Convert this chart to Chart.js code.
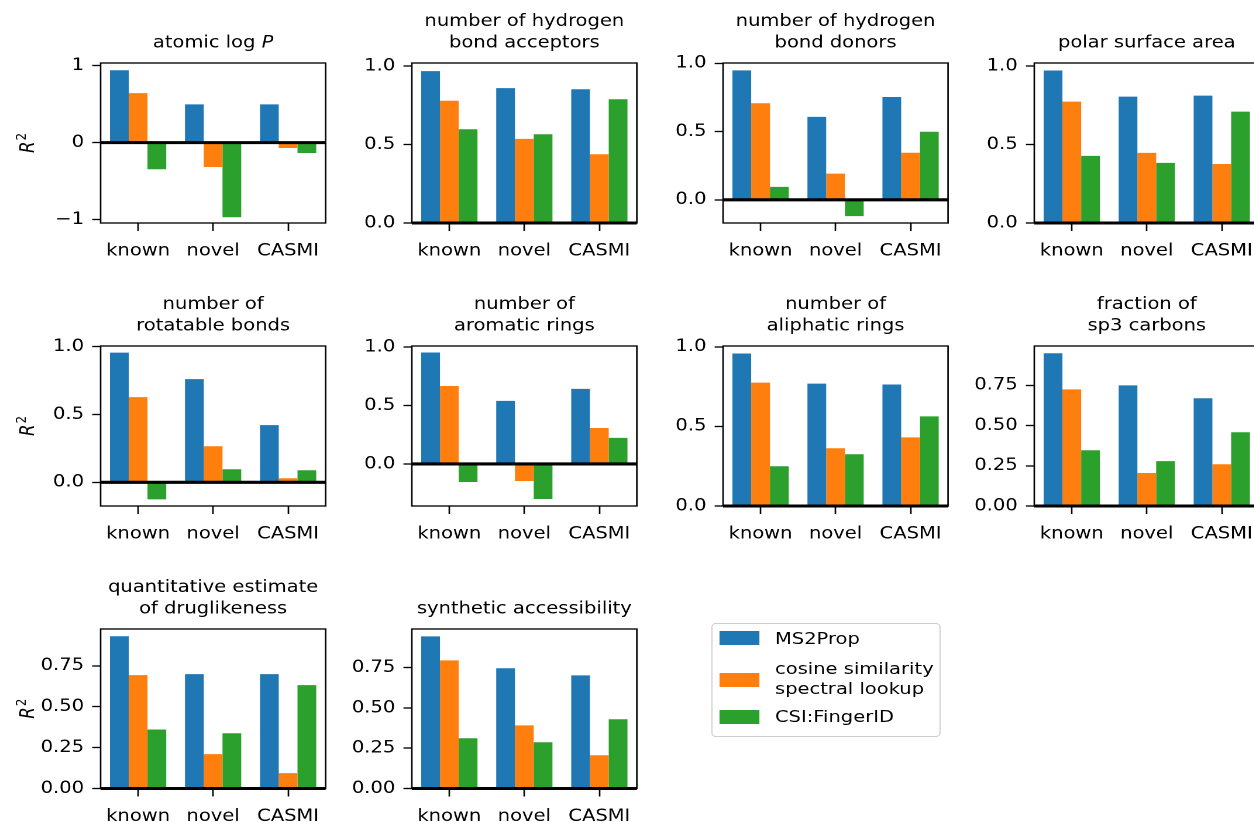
<!DOCTYPE html>
<html>
<head>
<meta charset="utf-8">
<title>R² of predicted molecular properties</title>
<script src="https://cdn.jsdelivr.net/npm/chart.js@4.4.1/dist/chart.umd.min.js"></script>
<style>
  html, body { margin: 0; padding: 0; background: #fff; }
  body { width: 1254px; height: 822px; overflow: hidden; position: relative; }
  #figure { position: absolute; left: 0; top: 0; width: 1080px; height: 822px; transform-origin: 0 0; }
  #figure canvas { position: absolute; }
  #legend { position: absolute; box-sizing: border-box; border: 1px solid #cccccc; border-radius: 4px; background: rgba(255,255,255,0.8); }
  .swatch { position: absolute; }
  .entry { position: absolute; font-family: "DejaVu Sans", sans-serif; font-size: 16.67px; line-height: 20px; color: #000; white-space: pre; }
</style>
</head>
<body>
<div id="figure"><div id="legend"></div></div>
<script>
// ---- data ----
const splits = ['known', 'novel', 'CASMI'];
const methodNames = ['MS2Prop', 'cosine similarity\nspectral lookup', 'CSI:FingerID'];
const methodColors = ['#1f77b4', '#ff7f0e', '#2ca02c'];

// text between $...$ is set in italics
const propertyTitles = [
  ['atomic log $P$'],
  ['number of hydrogen', 'bond acceptors'],
  ['number of hydrogen', 'bond donors'],
  ['polar surface area'],
  ['number of', 'rotatable bonds'],
  ['number of', 'aromatic rings'],
  ['number of', 'aliphatic rings'],
  ['fraction of', 'sp3 carbons'],
  ['quantitative estimate', 'of druglikeness'],
  ['synthetic accessibility']
];

// R² per property, columns: known, novel, CASMI
const ms2prop = [
  [0.940, 0.497, 0.497],
  [0.968, 0.860, 0.853],
  [0.949, 0.608, 0.754],
  [0.972, 0.806, 0.812],
  [0.956, 0.761, 0.421],
  [0.954, 0.540, 0.643],
  [0.958, 0.769, 0.763],
  [0.950, 0.750, 0.670],
  [0.931, 0.699, 0.699],
  [0.944, 0.746, 0.702]
];
const cosineLookup = [
  [0.644, -0.317, -0.070],
  [0.779, 0.536, 0.438],
  [0.708, 0.192, 0.345],
  [0.774, 0.447, 0.376],
  [0.628, 0.266, 0.030],
  [0.668, -0.146, 0.308],
  [0.775, 0.363, 0.431],
  [0.725, 0.205, 0.260],
  [0.693, 0.210, 0.094],
  [0.795, 0.392, 0.206]
];
const csiFingerId = [
  [-0.347, -0.970, -0.135],
  [0.598, 0.566, 0.789],
  [0.095, -0.120, 0.499],
  [0.428, 0.383, 0.710],
  [-0.126, 0.096, 0.089],
  [-0.154, -0.300, 0.223],
  [0.250, 0.325, 0.563],
  [0.347, 0.279, 0.459],
  [0.361, 0.338, 0.632],
  [0.312, 0.287, 0.430]
];

const yLimits = [
  [-1.045, 1.035], [0, 1.02], [-0.17, 1.003], [0, 1.02],
  [-0.175, 1.005], [-0.36, 1.01], [0, 1.005], [0, 0.995],
  [0, 0.975], [0, 0.99]
];
const tickTenths = [0, 0.5, 1];
const tickQuarters = [0, 0.25, 0.5, 0.75];
const yTickValues = [
  [-1, 0, 1], tickTenths, tickTenths, tickTenths,
  tickTenths, tickTenths, tickTenths, tickQuarters,
  tickQuarters, tickQuarters
];
const labelsTenths = ['0.0', '0.5', '1.0'];
const labelsQuarters = ['0.00', '0.25', '0.50', '0.75'];
const yTickLabels = [
  ['\u22121', '0', '1'], labelsTenths, labelsTenths, labelsTenths,
  labelsTenths, labelsTenths, labelsTenths, labelsQuarters,
  labelsQuarters, labelsQuarters
];
const showYLabel = [true, false, false, false, true, false, false, false, true, false];

// ---- layout ----
const X_STRETCH = 1.17;          // figure is laid out narrow, then widened
const FONT = '"DejaVu Sans", sans-serif';
const FS = 16.67;
const COL_LEFT0 = 85.5, COL_STEP = 266.2, PLOT_W = 192.3;
const ROW_TOP = [63, 346, 629], ROW_BOTTOM = [223, 506, 788.5];
const Y_AXIS_W = 80, X_AXIS_H = 50, PAD_TOP = 60;
const CANVAS_W = 300, CANVAS_H = 270;
const TITLE_BASE_GAP = 15.5, TITLE_LINE = 21.3;
const YLABEL_X = 28.6;

Chart.defaults.font.family = FONT;
Chart.defaults.font.size = FS;
Chart.defaults.color = '#000';

const fig = document.getElementById('figure');
fig.style.transform = `scaleX(${X_STRETCH})`;

function drawRich(ctx, text, cx, baseline) {
  const parts = text.split('$');
  const fonts = parts.map((p, k) => (k % 2 ? 'italic ' : '') + FS + 'px ' + FONT);
  let total = 0;
  const widths = parts.map((p, k) => { ctx.font = fonts[k]; const w = ctx.measureText(p).width; total += w; return w; });
  let x = cx - total / 2;
  ctx.textAlign = 'left';
  parts.forEach((p, k) => { ctx.font = fonts[k]; ctx.fillText(p, x, baseline); x += widths[k]; });
}

function makeDecor(i) {
  return {
    id: 'panelDecor' + i,
    afterDatasetsDraw(chart) {
      const { ctx, chartArea: a, scales: { y } } = chart;
      ctx.save();
      ctx.strokeStyle = '#000';
      // horizontal reference line at R² = 0
      const y0 = y.getPixelForValue(0);
      ctx.lineWidth = 3.1;
      ctx.beginPath(); ctx.moveTo(a.left, y0); ctx.lineTo(a.right, y0); ctx.stroke();
      // axes frame
      ctx.lineWidth = 1.33;
      ctx.strokeRect(a.left, a.top, a.right - a.left, a.bottom - a.top);
      ctx.restore();
    },
    afterDraw(chart) {
      const { ctx, chartArea: a } = chart;
      ctx.save();
      ctx.fillStyle = '#000';
      ctx.textBaseline = 'alphabetic';
      const lines = propertyTitles[i];
      const cx = (a.left + a.right) / 2;
      lines.forEach((ln, k) => drawRich(ctx, ln, cx, a.top - TITLE_BASE_GAP - (lines.length - 1 - k) * TITLE_LINE));
      if (showYLabel[i]) {
        ctx.translate(a.left - (COL_LEFT0 - YLABEL_X), (a.top + a.bottom) / 2);
        ctx.rotate(-Math.PI / 2);
        const supFS = FS * 0.7;
        ctx.font = `italic ${FS}px ${FONT}`;
        const wR = ctx.measureText('R').width;
        ctx.font = `${supFS}px ${FONT}`;
        const w2 = ctx.measureText('2').width;
        const x0 = -(wR + w2 + 1) / 2;
        ctx.textAlign = 'left';
        ctx.font = `italic ${FS}px ${FONT}`;
        ctx.fillText('R', x0, 0);
        ctx.font = `${supFS}px ${FONT}`;
        ctx.fillText('2', x0 + wR + 1, -FS * 0.42);
      }
      ctx.restore();
    }
  };
}

const series = [ms2prop, cosineLookup, csiFingerId];

propertyTitles.forEach((title, i) => {
  const row = Math.floor(i / 4), col = i % 4;
  const L = COL_LEFT0 + col * COL_STEP, T = ROW_TOP[row], B = ROW_BOTTOM[row];
  const canvas = document.createElement('canvas');
  canvas.width = CANVAS_W; canvas.height = CANVAS_H;
  canvas.style.left = (L - Y_AXIS_W) + 'px';
  canvas.style.top = (T - PAD_TOP) + 'px';
  canvas.style.width = CANVAS_W + 'px';
  canvas.style.height = CANVAS_H + 'px';
  fig.appendChild(canvas);

  new Chart(canvas, {
    type: 'bar',
    data: {
      labels: splits,
      datasets: methodNames.map((name, k) => ({
        label: name,
        data: series[k][i],
        backgroundColor: methodColors[k],
        borderWidth: 0,
        categoryPercentage: 0.75,
        barPercentage: 1.0
      }))
    },
    options: {
      responsive: false,
      animation: false,
      devicePixelRatio: 2,
      layout: {
        padding: {
          top: PAD_TOP, left: 0,
          right: CANVAS_W - Y_AXIS_W - PLOT_W,
          bottom: CANVAS_H - PAD_TOP - (B - T) - X_AXIS_H
        }
      },
      plugins: { legend: { display: false }, tooltip: { enabled: false }, title: { display: false } },
      scales: {
        x: {
          offset: true,
          grid: { offset: false, drawOnChartArea: false, drawTicks: true, tickLength: 8, tickWidth: 1.33, tickColor: '#000' },
          border: { display: false },
          ticks: { padding: 10, maxRotation: 0, minRotation: 0, autoSkip: false, color: '#000' },
          afterFit(s) { s.height = X_AXIS_H; }
        },
        y: {
          min: yLimits[i][0],
          max: yLimits[i][1],
          grid: { drawOnChartArea: false, drawTicks: true, tickLength: 7.2, tickWidth: 1.33, tickColor: '#000' },
          border: { display: false },
          ticks: { padding: 7, color: '#000', callback: (v, idx) => yTickLabels[i][idx] },
          afterBuildTicks(s) { s.ticks = yTickValues[i].map(v => ({ value: v })); },
          afterFit(s) { s.width = Y_AXIS_W; }
        }
      }
    },
    plugins: [makeDecor(i)]
  });
});

// ---- legend ----
const legend = document.getElementById('legend');
Object.assign(legend.style, { left: '608.3px', top: '622.7px', width: '195.7px', height: '114px' });
const swatchTops = [631, 673, 710];
const textTops = [629.3, 659.3, 707.3];
methodNames.forEach((name, k) => {
  const sw = document.createElement('div');
  sw.className = 'swatch';
  Object.assign(sw.style, { left: '615.4px', top: swatchTops[k] + 'px', width: '33.3px', height: '14px', background: methodColors[k] });
  fig.appendChild(sw);
  const tx = document.createElement('div');
  tx.className = 'entry';
  tx.textContent = name;
  Object.assign(tx.style, { left: '662.4px', top: textTops[k] + 'px' });
  fig.appendChild(tx);
});
</script>
</body>
</html>
